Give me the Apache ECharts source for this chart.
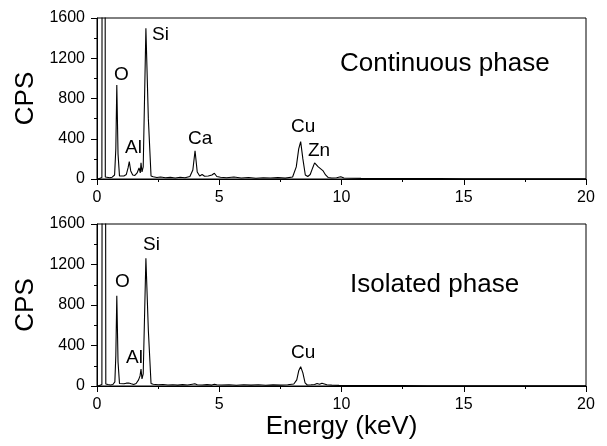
<!DOCTYPE html>
<html><head><meta charset="utf-8">
<script src="https://cdn.jsdelivr.net/npm/echarts@6/dist/echarts.min.js"></script>
<style>html,body{margin:0;padding:0;background:#fff}#c{width:607px;height:446px}</style>
</head><body><div id="c"></div>
<script>
// Continuous phase spectrum
var contEnergy = [0,0.1,0.2,0.27,0.34, 0.42,0.52,0.62,0.72,0.77, 0.81,0.86,0.92,1.0,1.1, 1.2,1.27,1.32,1.38,1.46,
  1.55,1.64,1.72,1.77,1.80, 1.84,1.89,2.00,2.10,2.21, 2.3,2.45,2.6,2.8,3.0, 3.2,3.4,3.6,3.8,3.92,
  4.01,4.1,4.2,4.3,4.4, 4.55,4.7,4.8,4.9,5.05, 5.3,5.6,5.9,6.2,6.5, 6.8,7.1,7.4,7.7,8.0,
  8.15,8.25,8.33,8.42,8.52, 8.62,8.72,8.82,8.9,8.95, 9.05,9.15,9.25,9.35,9.45, 9.6,9.8,9.97,10.1,10.4,
  10.8,11.3,12,13,14, 15,16,17,18,19, 20];
var contCps = [0,5,15,20000,20, 15,12,18,40,300, 934,250,30,22,30, 45,110,172,80,40,
  35,60,110,60,162, 70,120,1497,600,30, 22,15,20,12,16, 10,18,12,25,90,
  281,70,30,45,28, 30,40,57,25,18, 12,20,10,15,8, 12,10,14,9,20,
  120,300,371,200,40, 25,45,110,160,172, 120,100,80,40,15, 10,12,23,10,8,
  6,5,5,4,4, 3,3,3,3,2, 2];
// Isolated phase spectrum
var isoEnergy = [0,0.1,0.2,0.28,0.36, 0.45,0.55,0.65,0.73,0.77, 0.81,0.86,0.92,1.0,1.1, 1.2,1.3,1.4,1.5,1.6,
  1.7,1.76,1.80,1.84,1.89, 2.00,2.10,2.21,2.3,2.5, 2.7,2.9,3.1,3.3,3.5, 3.7,3.9,4.0,4.1,4.3,
  4.5,4.7,4.8,4.9,5.1, 5.4,5.7,6.0,6.3,6.6, 6.9,7.2,7.5,7.8,8.05, 8.17,8.25,8.33,8.42,8.51,
  8.6,8.75,8.9,9.0,9.1, 9.2,9.28,9.4,9.6,9.9, 10.3,10.8,11.5,12.5,13.5, 14.5,15.5,16.5,17.5,18.5, 19.5,20];
var isoCps = [0,5,15,20000,20, 15,10,15,40,300, 892,240,25,18,22, 28,30,22,15,25,
  60,100,168,70,120, 1261,550,25,18,12, 15,10,13,9,14, 10,18,22,12,10,
  14,9,18,12,10, 13,8,12,9,13, 8,11,9,12,20, 60,150,191,130,30,
  10,12,15,25,18, 28,20,12,9,6, 5,5,4,4,3, 3,3,3,3,2, 2,2];
// Axis ticks
var xTicks = [0, 20, 5];     // min, max, interval (keV)
var yTicks = [0, 1600, 400]; // min, max, interval (CPS)
var contPeaks = [['Si',152,36],['O',114,76],['Al',125,149],['Ca',188,140],['Cu',291,128],['Zn',308,152]];
var isoPeaks = [['Si',143,246],['O',115,283],['Al',126,359],['Cu',291,354]];

function zip(a,b){return a.map(function(v,i){return [v,b[i]];});}
var FONT = 'Arial, "Liberation Sans", sans-serif';
function xAx(idx, showName){
  return {type:'value', gridIndex:idx, min:xTicks[0], max:xTicks[1], interval:xTicks[2],
    axisLine:{show:true,onZero:false,lineStyle:{color:'#000',width:1}},
    axisTick:{show:true,inside:false,length:6,lineStyle:{color:'#000'}},
    minorTick:{show:true,splitNumber:2,length:3,lineStyle:{color:'#000'}},
    splitLine:{show:false},
    axisLabel:{color:'#000',fontSize:16,fontFamily:FONT,margin:11,formatter:function(v){return String(v);}},
    name: showName ? 'Energy (keV)' : '', nameLocation:'middle', nameGap:28,
    nameTextStyle:{color:'#000',fontSize:26,fontFamily:FONT}};
}
function yAx(idx){
  return {type:'value', gridIndex:idx, min:yTicks[0], max:yTicks[1], interval:yTicks[2],
    axisLine:{show:true,onZero:false,lineStyle:{color:'#000',width:1}},
    axisTick:{show:true,inside:false,length:6,lineStyle:{color:'#000'}},
    minorTick:{show:true,splitNumber:2,length:3,lineStyle:{color:'#000'}},
    splitLine:{show:false},
    axisLabel:{color:'#000',fontSize:16,fontFamily:FONT,margin:12,formatter:function(v){return String(v);}},
    name:'CPS', nameLocation:'middle', nameGap:58, nameRotate:90,
    nameTextStyle:{color:'#000',fontSize:26,fontFamily:FONT}};
}
function labels(list){
  return list.map(function(p){
    return {type:'text', left:p[1], top:p[2]-11, style:{text:p[0], fontSize:19, fontFamily:FONT, fill:'#000'}};
  });
}
var chart = echarts.init(document.getElementById('c'), null, {renderer:'canvas'});
chart.setOption({
  animation:false,
  grid:[
    {left:97, top:18, width:489, height:161, show:true, borderColor:'#000', borderWidth:1, backgroundColor:'transparent'},
    {left:97, top:224, width:489, height:162, show:true, borderColor:'#000', borderWidth:1, backgroundColor:'transparent'}
  ],
  xAxis:[xAx(0,false), xAx(1,true)],
  yAxis:[yAx(0), yAx(1)],
  series:[
    {type:'line', xAxisIndex:0, yAxisIndex:0, data:zip(contEnergy,contCps), symbol:'none', clip:true,
     lineStyle:{color:'#000',width:1.1}},
    {type:'line', xAxisIndex:1, yAxisIndex:1, data:zip(isoEnergy,isoCps), symbol:'none', clip:true,
     lineStyle:{color:'#000',width:1.1}}
  ],
  graphic: labels(contPeaks).concat(labels(isoPeaks)).concat([
    {type:'text', left:340, top:51, style:{text:'Continuous phase', fontSize:26, fontFamily:FONT, fill:'#000'}},
    {type:'text', left:350, top:272, style:{text:'Isolated phase', fontSize:26, fontFamily:FONT, fill:'#000'}}
  ])
});
</script></body></html>
